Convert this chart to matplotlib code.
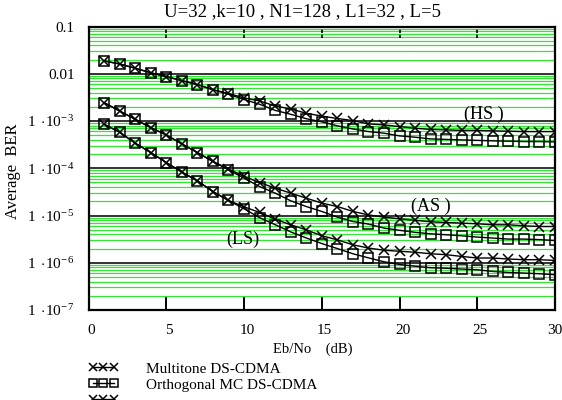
import numpy as np
import matplotlib
matplotlib.use("Agg")
import matplotlib.pyplot as plt
import matplotlib.ticker as mticker
import matplotlib.transforms as mtransforms
from matplotlib.lines import Line2D

plt.rcParams['font.family'] = ['Liberation Serif', 'DejaVu Serif']
plt.rcParams['mathtext.fontset'] = 'custom'
plt.rcParams['mathtext.rm'] = 'Liberation Serif'
plt.rcParams['mathtext.it'] = 'Liberation Serif:italic'

# Eb/No in dB
ebno = np.arange(1, 31)

# (HS) curves
hs_multitone = [1.87e-2, 1.61e-2, 1.31e-2, 1.05e-2, 8.69e-3, 7.15e-3, 5.9e-3, 4.6e-3, 3.83e-3, 3.08e-3,
                2.66e-3, 2.08e-3, 1.80e-3, 1.46e-3, 1.27e-3, 1.13e-3, 1.02e-3, 8.69e-4, 8.27e-4, 7.61e-4,
                7.04e-4, 6.64e-4, 6.48e-4, 6.33e-4, 6.33e-4, 6.18e-4, 6.09e-4, 5.97e-4, 5.97e-4, 5.97e-4]
hs_orthogonal = [1.87e-2, 1.61e-2, 1.31e-2, 1.05e-2, 8.69e-3, 7.15e-3, 5.9e-3, 4.6e-3, 3.69e-3, 2.85e-3,
                 2.26e-3, 1.68e-3, 1.39e-3, 1.12e-3, 9.6e-4, 7.9e-4, 6.8e-4, 5.97e-4, 5.52e-4, 4.84e-4,
                 4.54e-4, 4.18e-4, 4.08e-4, 3.98e-4, 3.89e-4, 3.80e-4, 3.74e-4, 3.67e-4, 3.67e-4, 3.61e-4]

# (AS) curves
as_multitone = [2.45e-3, 1.63e-3, 1.09e-3, 7.25e-4, 5.08e-4, 3.28e-4, 2.15e-4, 1.39e-4, 9.71e-5, 6.74e-5,
                4.99e-5, 3.80e-5, 2.98e-5, 2.33e-5, 1.83e-5, 1.55e-5, 1.22e-5, 1.03e-5, 9.25e-6, 8.51e-6,
                7.92e-6, 7.36e-6, 7.11e-6, 6.90e-6, 6.68e-6, 6.36e-6, 6.36e-6, 6.05e-6, 5.85e-6, 5.85e-6]
as_orthogonal = [2.45e-3, 1.63e-3, 1.09e-3, 7.25e-4, 5.08e-4, 3.28e-4, 2.15e-4, 1.39e-4, 9.25e-5, 6.18e-5,
                 4.10e-5, 2.98e-5, 2.05e-5, 1.55e-5, 1.22e-5, 9.25e-6, 7.46e-6, 6.58e-6, 5.42e-6, 4.86e-6,
                 4.41e-6, 4.10e-6, 3.91e-6, 3.72e-6, 3.49e-6, 3.33e-6, 3.17e-6, 3.17e-6, 3.09e-6, 2.96e-6]

# (LS) curves
ls_multitone = [8.56e-4, 5.80e-4, 3.40e-4, 2.15e-4, 1.32e-4, 8.31e-5, 5.42e-5, 3.21e-5, 2.08e-5, 1.53e-5,
                1.16e-5, 8.39e-6, 6.36e-6, 4.99e-6, 3.72e-6, 3.06e-6, 2.40e-6, 2.05e-6, 1.84e-6, 1.75e-6,
                1.67e-6, 1.55e-6, 1.48e-6, 1.36e-6, 1.26e-6, 1.26e-6, 1.20e-6, 1.16e-6, 1.16e-6, 1.12e-6]
ls_orthogonal = [8.56e-4, 5.80e-4, 3.40e-4, 2.15e-4, 1.32e-4, 8.31e-5, 5.42e-5, 3.21e-5, 2.08e-5, 1.39e-5,
                 9.0e-6, 6.4e-6, 4.5e-6, 3.35e-6, 2.55e-6, 2.0e-6, 1.55e-6, 1.27e-6, 1.05e-6, 9.2e-7,
                 8.43e-7, 7.84e-7, 7.65e-7, 7.36e-7, 7.11e-7, 6.55e-7, 6.24e-7, 6.05e-7, 5.85e-7, 5.57e-7]

yticks = [1e-1, 1e-2, 1e-3, 1e-4, 1e-5, 1e-6, 1e-7]
ytick_labels = ['0.1', '0.01', r'$1\ \cdot\!10^{-\,3}$', r'$1\ \cdot\!10^{-\,4}$',
                r'$1\ \cdot\!10^{-\,5}$', r'$1\ \cdot\!10^{-\,6}$', r'$1\ \cdot\!10^{-\,7}$']
xticks = [0, 5, 10, 15, 20, 25, 30]

# group labels and where they sit (Eb/No, BER)
group_labels = ['(HS )', '(AS )', '(LS)']
group_label_pos = [(25.4, 1.35e-3), (22.0, 1.57e-5), (9.9, 3.2e-6)]

fig = plt.figure(figsize=(5.62, 4.0), dpi=100)
ax = fig.add_axes([88.5 / 562, 90 / 400, 466.5 / 562, 283.5 / 400])

mt_style = dict(color='black', lw=1.0, marker='x', ms=7.5, mew=1.1)
or_style = dict(color='black', lw=1.0, marker='s', ms=6.5, mew=1.1, mfc='none')

for mt, orth in [(hs_multitone, hs_orthogonal), (as_multitone, as_orthogonal),
                 (ls_multitone, ls_orthogonal)]:
    ax.plot(ebno, mt, **mt_style)
    ax.plot(ebno, orth, **or_style)

ax.set_yscale('log')
ax.set_xlim(0, 30)
ax.set_ylim(1e-7, 1e-1)
ax.set_yticks(yticks)
ax.set_yticklabels(ytick_labels)
ax.yaxis.set_minor_locator(mticker.LogLocator(base=10, subs=np.arange(2, 10)))
ax.yaxis.set_minor_formatter(mticker.NullFormatter())
ax.set_axisbelow(True)
ax.grid(True, which='minor', axis='y', color='#33e633', lw=0.9)
ax.grid(True, which='major', axis='y', color='#333333', lw=1.4)
ax.tick_params(axis='y', which='both', length=0, pad=10, labelsize=11)

ax.set_xticks(xticks)
ax.tick_params(axis='x', direction='in', length=10, width=1.4, pad=10, labelsize=11)
offset = mtransforms.ScaledTranslation(3 / 100, 0, fig.dpi_scale_trans)
for lab in ax.get_xticklabels()[:-1]:
    lab.set_transform(lab.get_transform() + offset)

# dashed ticks along the top
ax.vlines(xticks[1:-1], 0.958, 1.0, transform=ax.get_xaxis_transform(),
          colors='black', lw=1.2, linestyles=(0, (2, 1)))

for sp in ax.spines.values():
    sp.set_linewidth(1.6)
    sp.set_color('black')

for txt, (gx, gy) in zip(group_labels, group_label_pos):
    ax.text(gx, gy, txt, ha='center', va='center', fontsize=13)

fig.text(303 / 562, 1 - 12 / 400, 'U=32 ,k=10 , N1=128 , L1=32 , L=5',
         ha='center', va='center', fontsize=13.5)
fig.text(313 / 562, 1 - 349 / 400, 'Eb/No    (dB)', ha='center', va='center', fontsize=10.5)
fig.text(13 / 562, 1 - 171 / 400, 'Average  BER', ha='center', va='center',
         rotation=90, fontsize=12)

handles = [Line2D([], [], **mt_style), Line2D([], [], **or_style), Line2D([], [], **mt_style)]
labels = ['Multitone DS-CDMA', 'Orthogonal MC DS-CDMA', ' ']
fig.legend(handles, labels, loc='upper left', bbox_to_anchor=(88 / 562, 1 - 362 / 400),
           frameon=False, fontsize=11, numpoints=3, handlelength=2.0, handletextpad=1.8,
           labelspacing=0.15, borderpad=0, borderaxespad=0, markerscale=0.85)

fig.savefig('out.png', dpi=100)
